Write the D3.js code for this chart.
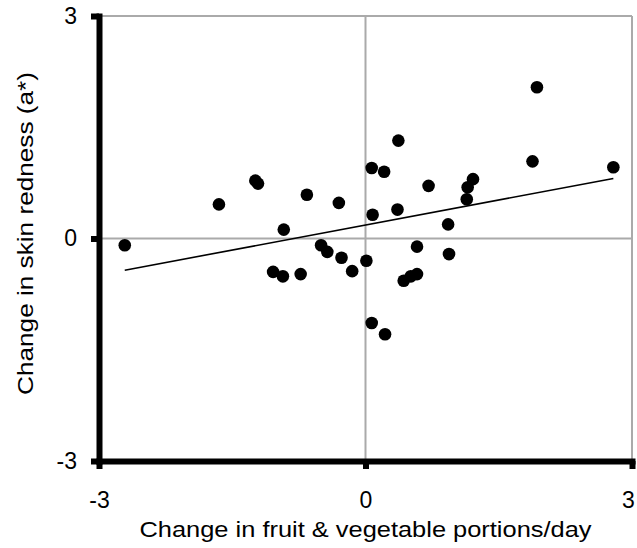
<!DOCTYPE html>
<html>
<head>
<meta charset="utf-8">
<script src="https://cdn.jsdelivr.net/npm/d3@7"></script>
<style>
  body { margin: 0; background: #fff; }
  svg text { font-family: "Liberation Sans", Arial, sans-serif; fill: #000; }
</style>
</head>
<body>
<div id="chart"></div>
<script>
// Change in fruit & vegetable portions/day vs change in skin redness
var fruitVegChange = [-2.71, -1.65, -1.24, -1.21, -0.92, -0.66, -0.30, -1.04, -0.93, -0.73,
  -0.50, -0.43, -0.27, -0.15, 0.01, 0.07, 0.21, 0.37, 0.08, 0.36, 0.71, 0.93, 0.58, 0.94,
  0.43, 0.51, 0.58, 0.07, 0.22, 1.14, 1.15, 1.21, 1.88, 1.93, 2.79];
var rednessChange = [-0.09, 0.46, 0.78, 0.74, 0.12, 0.59, 0.48, -0.45, -0.51, -0.48,
  -0.09, -0.18, -0.26, -0.44, -0.30, 0.95, 0.90, 1.32, 0.32, 0.39, 0.71, 0.19, -0.11, -0.21,
  -0.57, -0.51, -0.48, -1.14, -1.29, 0.53, 0.69, 0.80, 1.04, 2.04, 0.96];
// linear trend line
var trendSlope = 0.225;
var trendIntercept = 0.182;
var tickValues = [-3, 0, 3];

var chartWidth = 637;
var chartHeight = 548;
var margin = { top: 16, right: 5, bottom: 87, left: 99 };
var plotW = chartWidth - margin.left - margin.right;
var plotH = chartHeight - margin.top - margin.bottom;

var svg = d3.select("#chart")
  .append("svg")
  .attr("width", chartWidth)
  .attr("height", chartHeight);

var g = svg.append("g")
  .attr("transform", "translate(" + margin.left + "," + margin.top + ")");

var x = d3.scaleLinear().domain([-3, 3]).range([0, plotW]);
var y = d3.scaleLinear().domain([-3, 3]).range([plotH, 0]);

// gray frame and zero lines
var gray = "#aaaaaa";
g.append("line").attr("x1", 0).attr("x2", plotW).attr("y1", y(3)).attr("y2", y(3))
  .attr("stroke", gray).attr("stroke-width", 2);
g.append("line").attr("x1", x(3)).attr("x2", x(3)).attr("y1", 0).attr("y2", plotH)
  .attr("stroke", gray).attr("stroke-width", 2);
g.append("line").attr("x1", 0).attr("x2", plotW).attr("y1", y(0)).attr("y2", y(0))
  .attr("stroke", gray).attr("stroke-width", 2);
g.append("line").attr("x1", x(0)).attr("x2", x(0)).attr("y1", 0).attr("y2", plotH)
  .attr("stroke", gray).attr("stroke-width", 2);

// trend line
var xMin = d3.min(fruitVegChange), xMax = d3.max(fruitVegChange);
g.append("line")
  .attr("x1", x(xMin)).attr("y1", y(trendSlope * xMin + trendIntercept))
  .attr("x2", x(xMax)).attr("y2", y(trendSlope * xMax + trendIntercept))
  .attr("stroke", "#000").attr("stroke-width", 1.6);

// points
g.append("g")
  .selectAll("circle")
  .data(d3.range(fruitVegChange.length))
  .enter()
  .append("circle")
  .attr("cx", function (i) { return x(fruitVegChange[i]); })
  .attr("cy", function (i) { return y(rednessChange[i]); })
  .attr("r", 6.3)
  .attr("fill", "#000");

// axes (plain hyphen for minus, like the original)
var fmt = function (d) { return String(d); };
var yAxis = g.append("g")
  .call(d3.axisLeft(y).tickValues(tickValues).tickSize(8).tickSizeOuter(0).tickPadding(14)
    .tickFormat(fmt));
var xAxis = g.append("g")
  .attr("transform", "translate(0," + plotH + ")")
  .call(d3.axisBottom(x).tickValues(tickValues).tickSize(8).tickSizeOuter(0).tickPadding(23)
    .tickFormat(fmt));

[yAxis, xAxis].forEach(function (ax) {
  ax.select(".domain").attr("stroke", "#000").attr("stroke-width", 6).attr("stroke-linecap", "square");
  ax.selectAll(".tick line").attr("stroke", "#000").attr("stroke-width", 6);
  ax.selectAll(".tick text").style("font-size", "23px")
    .style("font-family", "'Liberation Sans', Arial, sans-serif").attr("fill", "#000");
});
// keep the right-hand "3" inside the page
xAxis.selectAll(".tick text").filter(function (d) { return d === 3; }).attr("dx", -4);

// axis titles
svg.append("text")
  .attr("x", margin.left + x(0))
  .attr("y", 537)
  .attr("text-anchor", "middle")
  .attr("textLength", 452)
  .attr("lengthAdjust", "spacingAndGlyphs")
  .style("font-size", "22px")
  .text("Change in fruit & vegetable portions/day");

svg.append("text")
  .attr("transform", "translate(33,233.5) rotate(-90)")
  .attr("text-anchor", "middle")
  .attr("textLength", 323)
  .attr("lengthAdjust", "spacingAndGlyphs")
  .style("font-size", "22px")
  .text("Change in skin redness (a*)");
</script>
</body>
</html>
